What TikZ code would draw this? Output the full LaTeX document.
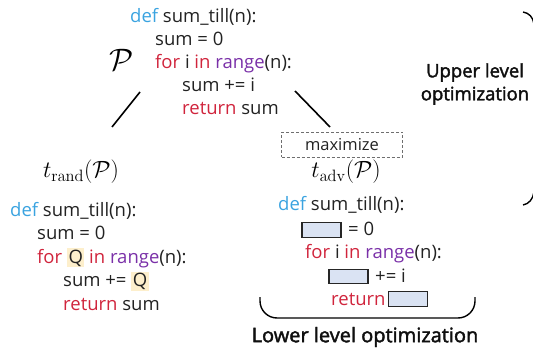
\documentclass[tikz,border=0pt]{standalone}
\usepackage{fix-cm}
\usepackage[no-math]{fontspec}
\setmainfont{Open Sans}
\newfontfamily\semib[FakeBold=2]{Open Sans}
\usepackage{amsmath}
\definecolor{kwblue}{RGB}{58,163,224}
\definecolor{kwred}{RGB}{208,36,60}
\definecolor{kwpurple}{RGB}{122,48,168}
\definecolor{txt}{RGB}{34,34,34}
\definecolor{lbltxt}{RGB}{15,15,15}
\definecolor{hlcol}{RGB}{253,239,204}
\definecolor{boxfill}{RGB}{218,227,243}
\definecolor{dashgray}{RGB}{110,110,110}
\newcommand\codefont{\fontsize{18.5}{22}\selectfont}
\newcommand\kb[1]{\textcolor{kwblue}{#1}}
\newcommand\kr[1]{\textcolor{kwred}{#1}}
\newcommand\kp[1]{\textcolor{kwpurple}{#1}}
\newcommand\hlQ{{\setlength{\fboxsep}{0pt}\colorbox{hlcol}{\rule[-4pt]{0pt}{19pt}\hspace{1.5pt}Q\hspace{1.5pt}}}}
\begin{document}
\begin{tikzpicture}[x=1pt,y=-1pt,
  code/.style={anchor=base west, inner sep=0pt, font=\codefont, text=txt},
  mathlbl/.style={inner sep=0pt, font=\fontsize{23.5}{23.5}\selectfont},
  blankbox/.style={draw=black!85, fill=boxfill, line width=1.2pt, inner sep=0pt, minimum width=39pt, minimum height=14.5pt},
  edge/.style={line width=1.6pt, black},
  label/.style={font=\semib\fontsize{18.5}{23}\selectfont, text=lbltxt, align=center, inner sep=0pt}]
\useasboundingbox (0,0) rectangle (533,350);

% top program
\node[code] (t1) at (130,23) {\kb{def} sum\_till(n):};
\node[code] (t2) at (155,46) {sum = 0};
\node[code] (t3) at (155,69) {\kr{for} i \kr{in} \kp{range}(n):};
\node[code] (t4) at (182,92) {sum += i};
\node[code] (t5) at (182,115) {\kr{return} sum};
\node[inner sep=0pt, font=\fontsize{31}{31}\selectfont] (P) at (122,60) {$\mathcal{P}$};

% connectors
\coordinate (la) at (140,92);
\coordinate (lb) at (112,127);
\coordinate (ra) at (295,91);
\coordinate (rb) at (330,127);
\draw[edge] (la) -- (lb);
\draw[edge] (ra) -- (rb);

% labels
\node[mathlbl] (trand) at (81,172) {$t_{\mathrm{rand}}(\mathcal{P})$};
\node[draw=dashgray, dashed, dash pattern=on 3pt off 2pt, line width=0.9pt, minimum width=121pt, minimum height=25pt, inner sep=0pt, font=\fontsize{16.5}{16.5}\selectfont, text=txt] (max) at (342,144.5) {maximize};
\node[mathlbl] (tadv) at (346,172) {$t_{\mathrm{adv}}(\mathcal{P})$};

% left program
\node[code] (l1) at (10,216) {\kb{def} sum\_till(n):};
\node[code] (l2) at (37,239.5) {sum = 0};
\node[code] (l3) at (37,263) {\kr{for} \hlQ{} \kr{in} \kp{range}(n):};
\node[code] (l4) at (63,286.5) {sum += \hlQ};
\node[code] (l5) at (63,310) {\kr{return} sum};

% right program
\node[code] (r1) at (278,211) {\kb{def} sum\_till(n):};
\node[blankbox] (b1) at (321.5,230) {};
\node[code] (r2) at (348,235) {= 0};
\node[code] (r3) at (305,258) {\kr{for} i \kr{in} \kp{range}(n):};
\node[blankbox] (b2) at (348.5,276.5) {};
\node[code] (r4) at (375,282) {+= i};
\node[code] (r5) at (331,305) {\kr{return}};
\node[blankbox] (b3) at (408,299) {};

% upper / lower labels
\node[label] (upper) at (475,84) {Upper level\\optimization};
\node[label, font=\semib\fontsize{20}{20}\selectfont] (lower) at (365,337) {Lower level optimization};

% brackets
\draw[edge, line width=1.4pt, rounded corners=17pt] (260,297) -- (260,318) -- (475,318) -- (475,297);
\draw[edge, line width=1.4pt] (523,12) .. controls (529,13) and (533,17) .. (534,24);
\draw[edge, line width=1.4pt] (534,192) .. controls (533,199) and (529,204) .. (523,205);
\end{tikzpicture}
\end{document}
